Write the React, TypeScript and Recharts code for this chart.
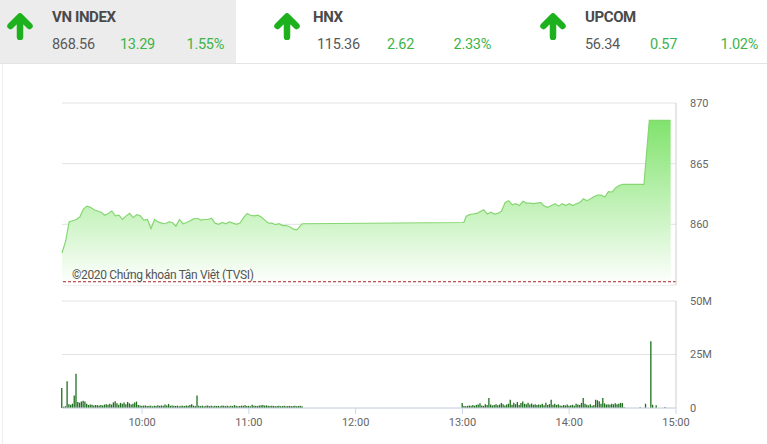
import React from "react";
import {
  AreaChart,
  Area,
  ComposedChart,
  Bar,
  XAxis,
  YAxis,
  CartesianGrid,
  ReferenceLine,
} from "recharts";

// ---- header quotes ----
const indexNames = ["VN INDEX", "HNX", "UPCOM"];
const indexValues = ["868.56", "115.36", "56.34"];
const indexChanges = ["13.29", "2.62", "0.57"];
const indexPercents = ["1.55%", "2.33%", "1.02%"];

// ---- axis ticks ----
const timeTicks = [600, 660, 720, 780, 840, 900]; // minutes since 00:00
const priceTicks = [855, 860, 865, 870];
const volumeTicks = [0, 25, 50];
const prevClose = 855.27;

// ---- price series: [minute, value] ----
const priceMorning: [number, number][] = [
  [555, 857.64], [557, 858.6], [559, 860.2], [561, 860.3], [563, 860.4], [565, 860.6],
  [567, 861.25], [569, 861.5], [571, 861.4], [573, 861.2], [575, 861.1], [577, 861.0],
  [579, 860.75], [581, 860.9], [583, 861.1], [585, 860.7], [587, 860.75], [589, 860.4],
  [591, 860.7], [593, 860.9], [595, 860.55], [597, 860.8], [599, 860.7], [601, 860.35],
  [603, 860.4], [605, 859.65], [607, 860.4], [609, 860.2], [611, 860.1], [613, 860.05],
  [615, 860.2], [617, 860.15], [619, 859.85], [621, 860.4], [623, 860.05], [625, 860.15],
  [627, 860.3], [629, 860.45], [631, 860.5], [633, 860.35], [635, 860.4], [637, 860.4],
  [639, 860.5], [641, 860.1], [643, 860.0], [645, 860.15], [647, 860.05], [649, 860.2],
  [651, 860.1], [653, 860.0], [655, 860.1], [657, 860.55], [659, 860.9], [661, 860.75],
  [663, 860.7], [665, 860.75], [667, 860.6], [669, 860.35], [671, 860.1], [673, 860.1],
  [675, 859.97], [677, 860.05], [679, 859.9], [681, 859.9], [683, 859.8], [685, 859.6],
  [687, 859.55], [689, 859.9], [690, 860.05],
];
const priceAfternoon: [number, number][] = [
  [780, 860.15], [781, 860.2], [782, 860.65], [784, 860.8], [786, 860.85], [788, 860.9],
  [790, 861.05], [792, 861.2], [794, 860.85], [796, 861.0], [798, 860.85], [800, 860.9],
  [802, 861.1], [804, 861.8], [806, 861.95], [808, 861.6], [810, 861.7], [812, 861.55],
  [814, 861.9], [816, 861.75], [818, 861.75], [820, 861.7], [822, 861.75], [824, 861.8],
  [826, 861.5], [828, 861.4], [830, 861.55], [832, 861.7], [834, 861.5], [836, 861.7],
  [838, 861.55], [840, 861.7], [842, 861.55], [844, 861.7], [846, 861.8], [848, 862.1],
  [850, 861.95], [852, 862.1], [854, 862.3], [856, 862.4], [858, 862.4], [860, 862.25],
  [862, 862.7], [864, 862.65], [866, 863.0], [868, 863.2], [870, 863.3], [882, 863.3],
  [885, 868.56], [897, 868.56],
];

// ---- volume (millions), one bar per minute ----
const volMorningStart = 555;
const volMorning = [
  9.4, 0.6, 0.8, 12.5, 1.8, 1.5, 2.0, 5.8, 16.0, 2.8, 2.5, 3.0, 3.4, 3.0, 2.0, 1.4,
  1.6, 1.5, 1.2, 1.4, 1.3, 1.2, 1.4, 1.2, 1.6, 1.8, 1.5, 2.0, 1.6, 2.6, 3.2, 2.2,
  1.5, 2.4, 2.0, 2.6, 1.8, 2.8, 2.2, 1.6, 2.0, 2.6, 3.0, 1.4, 1.2, 1.0, 1.1, 1.2,
  0.9, 1.0, 1.1, 0.8, 1.0, 0.9, 1.3, 1.0, 1.2, 1.0, 1.6, 1.2, 1.9, 1.0, 1.2, 1.0,
  0.9, 1.1, 0.8, 1.0, 1.0, 0.9, 1.2, 1.0, 1.4, 1.8, 1.1, 0.9, 5.8, 1.0, 0.9, 1.1,
  0.8, 1.0, 1.2, 0.9, 1.0, 0.8, 1.1, 0.9, 1.0, 0.8, 1.2, 1.0, 0.9, 1.1, 0.8, 1.0,
  0.9, 1.3, 1.0, 0.8, 0.9, 1.1, 1.0, 1.3, 0.9, 1.0, 0.8, 1.5, 1.0, 1.1, 0.9, 1.2,
  1.3, 1.4, 1.1, 1.2, 1.0, 0.9, 1.1, 1.0, 0.8, 0.9, 1.0, 0.8, 0.9, 1.0, 0.8, 0.9,
  1.0, 0.8, 0.9, 1.0, 0.8, 0.9, 1.0, 0.8,
];
const volAfternoonStart = 780;
const volAfternoon = [
  2.3, 0.9, 0.8, 1.0, 1.2, 1.0, 1.4, 1.1, 1.5, 1.6, 2.2, 1.2, 1.0, 1.8, 1.4, 4.7,
  1.6, 1.2, 1.4, 1.8, 1.3, 1.6, 2.3, 1.8, 1.2, 1.6, 2.0, 3.9, 1.5, 2.5, 1.8, 2.8,
  1.4, 2.3, 3.0, 2.0, 1.8, 2.4, 1.6, 2.1, 1.5, 1.7, 1.4, 1.6, 1.5, 2.0, 1.3, 2.5,
  1.4, 1.8, 3.9, 1.5, 2.0, 1.4, 1.8, 1.2, 1.0, 1.4, 1.2, 1.6, 1.0, 1.3, 1.5, 1.0,
  2.0, 1.6, 1.4, 2.4, 4.7, 2.0, 1.5, 1.2, 1.8, 1.0, 1.4, 3.9, 3.6, 3.2, 2.0, 4.7,
  2.2, 1.6, 1.8, 1.5, 2.0, 1.7, 2.2, 1.8, 2.0, 2.4, 2.3, 0.3,
];
const atcTimes = [880, 883, 886, 887, 889, 894];
const atcVols = [0.3, 2.0, 31.2, 1.5, 1.3, 0.5];

const priceData = [...priceMorning, ...priceAfternoon].map(([t, p]) => ({ t, p }));
const volumeData = [
  ...volMorning.map((v, i) => ({ t: volMorningStart + i, v })),
  ...volAfternoon.map((v, i) => ({ t: volAfternoonStart + i, v })),
  ...atcTimes.map((t, i) => ({ t, v: atcVols[i] })),
];

const fmtTime = (m: number) => {
  const h = Math.floor(m / 60);
  const mm = m % 60;
  return `${h}:${mm < 10 ? "0" + mm : mm}`;
};

const FONT = "Roboto, 'Noto Sans', sans-serif";
const GREEN = "#3db449";

const Arrow = () => (
  <svg width="28" height="28" viewBox="0 0 28 28">
    <path
      d="M14 25 V6 M4.5 14 L14 4.5 L23.5 14"
      stroke="#1db11d"
      strokeWidth="6.5"
      fill="none"
      strokeLinecap="round"
      strokeLinejoin="round"
    />
  </svg>
);

const headerPos = [
  { arrowX: 6, textX: 52, valX: [52, 120, 188], pctRight: 224 },
  { arrowX: 273, textX: 313, valX: [317, 387, 454], pctRight: 491 },
  { arrowX: 539, textX: 585, valX: [585, 650, 720], pctRight: 758 },
];

export default function App() {
  return (
    <div
      style={{
        position: "absolute",
        left: 0,
        top: 0,
        width: 767,
        height: 444,
        background: "#fff",
        fontFamily: FONT,
        overflow: "hidden",
      }}
    >
      {/* header */}
      <div
        style={{
          position: "absolute",
          left: 0,
          top: 0,
          width: 767,
          height: 63,
          borderBottom: "1px solid #e4e4e4",
        }}
      />
      <div style={{ position: "absolute", left: 0, top: 0, width: 236, height: 63, background: "#ececec" }} />
      <div style={{ position: "absolute", left: 2, top: 64, width: 1, height: 380, background: "#eeeeee" }} />
      {indexNames.map((name, i) => {
        const p = headerPos[i];
        return (
          <React.Fragment key={name}>
            <div style={{ position: "absolute", left: p.arrowX, top: 12 }}>
              <Arrow />
            </div>
            <div
              style={{
                position: "absolute",
                left: p.textX,
                top: 8,
                fontSize: 15,
                fontWeight: 700,
                color: "#4a4a4a",
                letterSpacing: -0.4,
                lineHeight: "18px",
              }}
            >
              {name}
            </div>
            <div
              style={{
                position: "absolute",
                left: p.valX[0],
                top: 36,
                fontSize: 14.5,
                color: "#595959",
                letterSpacing: -0.3,
                lineHeight: "18px",
              }}
            >
              {indexValues[i]}
            </div>
            <div
              style={{
                position: "absolute",
                left: p.valX[1],
                top: 36,
                fontSize: 14.5,
                color: GREEN,
                letterSpacing: -0.3,
                lineHeight: "18px",
              }}
            >
              {indexChanges[i]}
            </div>
            <div
              style={{
                position: "absolute",
                right: 767 - p.pctRight,
                top: 36,
                fontSize: 14.5,
                color: GREEN,
                letterSpacing: -0.3,
                lineHeight: "18px",
              }}
            >
              {indexPercents[i]}
            </div>
          </React.Fragment>
        );
      })}

      {/* price chart */}
      <div style={{ position: "absolute", left: 0, top: 0 }}>
        <AreaChart
          width={767}
          height={290}
          data={priceData}
          margin={{ top: 103, right: 0, left: 62, bottom: 5 }}
        >
          <defs>
            <linearGradient id="priceFill" x1="0" y1="0" x2="0" y2="1">
              <stop offset="0%" stopColor="#80e36c" stopOpacity={1} />
              <stop offset="100%" stopColor="#ffffff" stopOpacity={1} />
            </linearGradient>
          </defs>
          <CartesianGrid vertical={false} stroke="#e2e2e2" />
          <XAxis type="number" dataKey="t" domain={[555, 900]} ticks={timeTicks} hide />
          <YAxis
            orientation="right"
            width={91}
            domain={[855, 870]}
            ticks={priceTicks}
            allowDataOverflow
            axisLine={{ stroke: "#cfcfcf" }}
            tickLine={false}
            tickMargin={8}
            tick={{ fill: "#666", fontSize: 11, fontFamily: FONT, textAnchor: "start" }}
          />
          <Area
            type="linear"
            dataKey="p"
            stroke="#86d772"
            strokeWidth={1.2}
            fill="url(#priceFill)"
            fillOpacity={1}
            isAnimationActive={false}
            dot={false}
            activeDot={false}
          />
          <ReferenceLine y={prevClose} stroke="#b22222" strokeDasharray="3 2" strokeWidth={1} />
        </AreaChart>
      </div>
      <div
        style={{
          position: "absolute",
          left: 72,
          top: 268,
          fontSize: 12,
          color: "#555",
          letterSpacing: -0.35,
          lineHeight: "14px",
          whiteSpace: "nowrap",
        }}
      >
        ©2020 Chứng khoán Tân Việt (TVSI)
      </div>

      {/* volume chart */}
      <div style={{ position: "absolute", left: 0, top: 290 }}>
        <ComposedChart
          width={767}
          height={148}
          data={volumeData}
          margin={{ top: 11, right: 0, left: 62, bottom: 0 }}
        >
          <CartesianGrid vertical={false} stroke="#e2e2e2" />
          <XAxis
            type="number"
            dataKey="t"
            domain={[555, 900]}
            ticks={timeTicks}
            interval={0}
            tickFormatter={fmtTime}
            height={30}
            axisLine={{ stroke: "#ccd6eb" }}
            tickLine={{ stroke: "#ccd6eb" }}
            tickSize={6}
            tickMargin={4}
            tick={{ fill: "#666", fontSize: 11, fontFamily: FONT }}
          />
          <YAxis
            orientation="right"
            width={91}
            domain={[0, 50]}
            ticks={volumeTicks}
            allowDataOverflow
            axisLine={{ stroke: "#cfcfcf" }}
            tickLine={false}
            tickMargin={8}
            tickFormatter={(v: number) => (v === 0 ? "0" : `${v}M`)}
            tick={{ fill: "#666", fontSize: 11, fontFamily: FONT, textAnchor: "start" }}
          />
          <Bar dataKey="v" fill="#1f6f1f" barSize={1.3} isAnimationActive={false} />
        </ComposedChart>
      </div>
    </div>
  );
}
